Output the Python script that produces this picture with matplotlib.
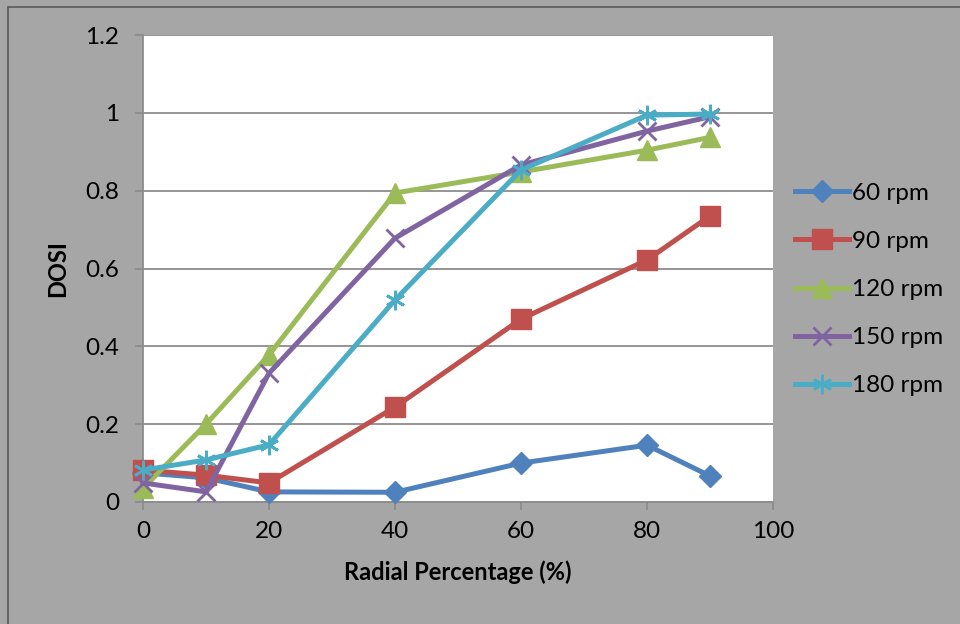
import matplotlib.pyplot as plt
from matplotlib.patches import Rectangle

radial = [0, 10, 20, 40, 60, 80, 90]
dosi_60 = [0.075, 0.062, 0.026, 0.025, 0.10, 0.146, 0.067]
dosi_90 = [0.082, 0.069, 0.049, 0.244, 0.470, 0.622, 0.735]
dosi_120 = [0.035, 0.200, 0.378, 0.794, 0.848, 0.904, 0.937]
dosi_150 = [0.049, 0.026, 0.331, 0.678, 0.866, 0.953, 0.990]
dosi_180 = [0.082, 0.108, 0.147, 0.519, 0.853, 0.994, 0.997]

series_labels = ["60 rpm", "90 rpm", "120 rpm", "150 rpm", "180 rpm"]
x_ticks = [0, 20, 40, 60, 80, 100]
y_ticks = [0, 0.2, 0.4, 0.6, 0.8, 1.0, 1.2]
y_tick_labels = ["0", "0.2", "0.4", "0.6", "0.8", "1", "1.2"]

colors = ["#4F81BD", "#C0504D", "#9BBB59", "#8064A2", "#4BACC6"]
markers = ["D", "s", "^", "x", (6, 2, 0)]
sizes = [11, 14, 14, 13, 14]

plt.rcParams["font.family"] = ["Lato", "DejaVu Sans"]

fig = plt.figure(figsize=(9.6, 6.24), dpi=100)
fig.patch.set_facecolor("#A6A6A6")
# outer chart border (only the top and left edges are visible in the crop)
fig.patches.append(Rectangle((8 / 960, -0.1), 1.2, 1.1 - 7 / 624,
                             transform=fig.transFigure, fill=False,
                             edgecolor="#5a5a5a", linewidth=1.2))

ax = fig.add_axes([143 / 960, 122 / 624, 630 / 960, 467 / 624])
ax.set_facecolor("white")

all_series = [dosi_60, dosi_90, dosi_120, dosi_150, dosi_180]
for values, label, color, marker, size in zip(all_series, series_labels, colors, markers, sizes):
    thin = marker in ("x", (6, 2, 0))
    ax.plot(radial, values, color=color, linewidth=3.6, marker=marker,
            markersize=size, markeredgewidth=2 if thin else 1,
            markeredgecolor=color, markerfacecolor=color, label=label,
            clip_on=False, zorder=3)

ax.set_xlim(0, 100)
ax.set_ylim(0, 1.2)
ax.set_xticks(x_ticks)
ax.set_yticks(y_ticks)
ax.set_yticklabels(y_tick_labels)
ax.grid(axis="y", color="#8c8c8c", linewidth=1.3)
ax.set_axisbelow(True)
for side in ("top", "right"):
    ax.spines[side].set_visible(False)
for side in ("left", "bottom"):
    ax.spines[side].set_color("#8c8c8c")
    ax.spines[side].set_linewidth(1.3)
ax.tick_params(direction="out", length=6, width=1.3, color="#8c8c8c",
               labelsize=17.5, labelcolor="black")
ax.tick_params(axis="y", pad=11)
ax.tick_params(axis="x", pad=8)

ax.set_xlabel("Radial Percentage (%)", fontsize=17, fontweight="bold", labelpad=13)
ax.set_ylabel("DOSI", fontsize=17, fontweight="bold", labelpad=12)

ax.legend(loc="center left", bbox_to_anchor=(1.035, 0.455), frameon=False,
          borderpad=0, borderaxespad=0, fontsize=17.5, handlelength=2.2,
          labelspacing=1.12, handletextpad=0.15)

fig.savefig("out.png", dpi=100, facecolor=fig.get_facecolor())
